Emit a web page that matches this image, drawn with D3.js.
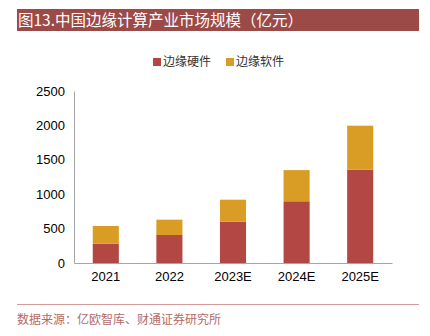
<!DOCTYPE html>
<html>
<head>
<meta charset="utf-8">
<script src="https://cdn.jsdelivr.net/npm/d3@7"></script>
<style>
  body { margin: 0; background: #fff; }
  svg { display: block; }
</style>
</head>
<body>
<div id="chart"></div>
<script>
// data
var years = ["2021", "2022", "2023E", "2024E", "2025E"];
var hardware = [280, 407, 600, 897, 1355];
var software = [258, 223, 320, 453, 641];
var seriesNames = ["边缘硬件", "边缘软件"];
var yTicks = [0, 500, 1000, 1500, 2000, 2500];

var svgWidth = 430;
var svgHeight = 336;
var colors = ["#b34744", "#d99d26"];

var svg = d3.select("#chart")
  .append("svg")
  .attr("width", svgWidth)
  .attr("height", svgHeight);

// title bar
svg.append("rect")
  .attr("x", 17).attr("y", 9)
  .attr("width", 402).attr("height", 22)
  .attr("fill", "#9c4a47");
svg.append("text")
  .attr("x", 18).attr("y", 26)
  .attr("fill", "#fff")
  .style("font-family", "'Noto Sans CJK SC', sans-serif")
  .style("font-size", "15.5px")
  .text("图13.中国边缘计算产业市场规模（亿元）");

// chart area
var plot = { left: 74, right: 392, top: 91, bottom: 263 };

var x = d3.scaleBand()
  .domain(years)
  .range([plot.left, plot.right])
  .paddingInner(0.59)
  .paddingOuter(0.295);

var y = d3.scaleLinear()
  .domain([0, 2500])
  .range([plot.bottom, plot.top]);

var table = years.map(function (yr, i) {
  return { year: yr, hw: hardware[i], sw: software[i] };
});
var stacked = d3.stack().keys(["hw", "sw"])(table);

svg.selectAll("g.layer")
  .data(stacked)
  .enter()
  .append("g")
  .attr("class", "layer")
  .attr("fill", (d, i) => colors[i])
  .selectAll("rect")
  .data(d => d)
  .enter()
  .append("rect")
  .attr("x", d => x(d.data.year))
  .attr("width", x.bandwidth())
  .attr("y", d => y(d[1]))
  .attr("height", d => y(d[0]) - y(d[1]));

// axes
var leftAxis = d3.axisLeft(y).tickValues(yTicks).tickFormat(d3.format("d"))
  .tickSize(0).tickPadding(9);
var bottomAxis = d3.axisBottom(x).tickSize(0).tickPadding(9);

var gy = svg.append("g")
  .attr("transform", `translate(${plot.left},0)`)
  .call(leftAxis);
var gx = svg.append("g")
  .attr("transform", `translate(0,${plot.bottom})`)
  .call(bottomAxis);

[gx, gy].forEach(function (g) {
  g.select(".domain").attr("stroke", "#a6a6a6").attr("stroke-width", 1);
  g.selectAll("text")
    .attr("fill", "#000")
    .style("font-family", "'Liberation Sans', Arial, sans-serif")
    .style("font-size", "13px");
});

// legend
var legend = svg.append("g");
var legendX = [153, 226];
seriesNames.forEach(function (name, i) {
  legend.append("rect")
    .attr("x", legendX[i]).attr("y", 58)
    .attr("width", 8).attr("height", 8)
    .attr("fill", colors[i]);
  legend.append("text")
    .attr("x", legendX[i] + 10).attr("y", 66)
    .attr("fill", "#333")
    .style("font-family", "'Noto Sans CJK SC', sans-serif")
    .style("font-size", "12px")
    .text(name);
});

// footer
svg.append("line")
  .attr("x1", 17).attr("x2", 419)
  .attr("y1", 304.5).attr("y2", 304.5)
  .attr("stroke", "#d39c9a").attr("stroke-width", 1);
svg.append("text")
  .attr("x", 17).attr("y", 324)
  .attr("fill", "#b56a67")
  .style("font-family", "'Noto Sans CJK SC', sans-serif")
  .style("font-size", "12px")
  .text("数据来源：亿欧智库、财通证券研究所");
</script>
</body>
</html>
